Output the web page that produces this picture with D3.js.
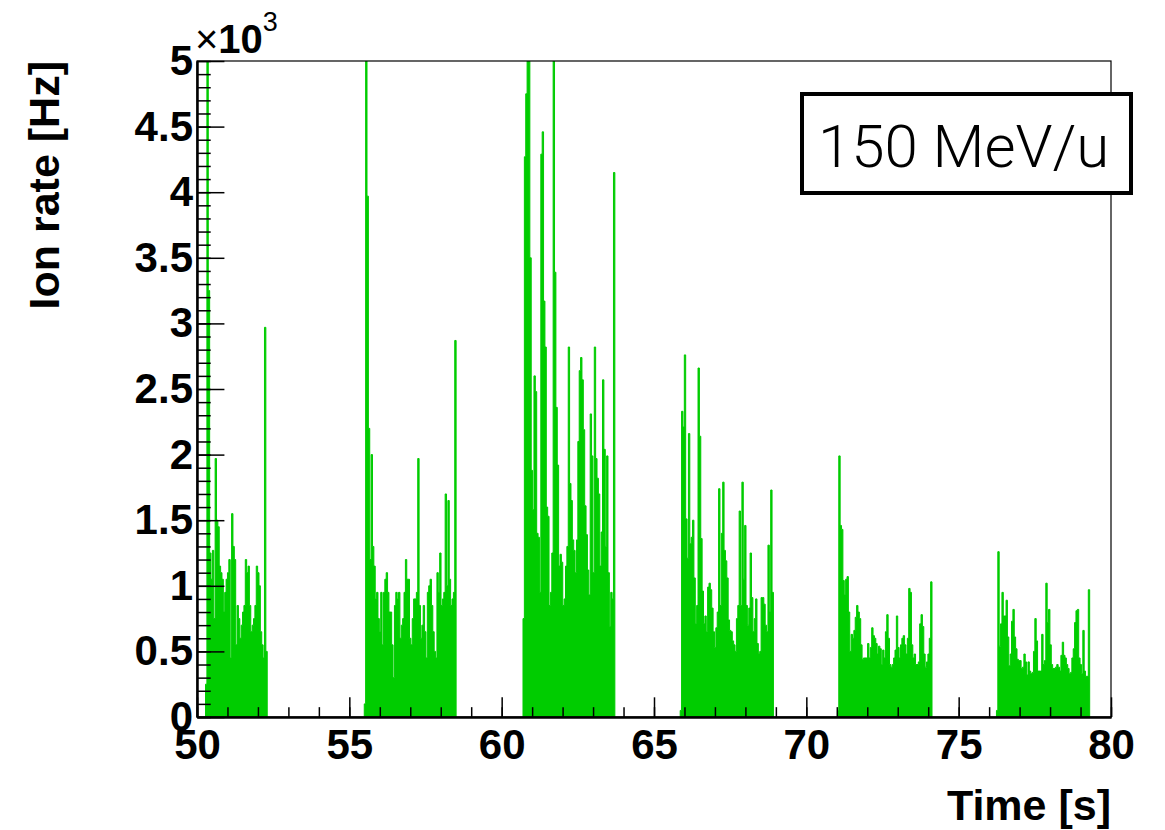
<!DOCTYPE html>
<html>
<head>
<meta charset="utf-8">
<script src="https://cdn.jsdelivr.net/npm/d3@7/dist/d3.min.js"></script>
<style>
  body { margin: 0; background: #fff; }
  svg text { font-family: "Liberation Sans", Arial, Helvetica, sans-serif; }
</style>
</head>
<body>
<div id="chart"></div>
<script>
// ---------------------------------------------------------------------------
// DATA  (ion rate in Hz, one value per time bin)
// ---------------------------------------------------------------------------
const binWidth = 0.045; // s

// start time [s] of the first bin of each spill
const spillStarts = [50.28, 55.49, 60.70, 65.86, 71.02, 76.24];

const spill1 = [250, 5600, 3250, 1250, 1050, 1270, 750, 1970, 1500, 1450, 1150, 1100, 1050, 800, 950,
  1050, 1100, 1200, 450, 1550, 1300, 1200, 550, 850, 750, 600, 700, 800, 850, 1200, 1100, 1150, 850,
  650, 700, 750, 850, 1150, 1100, 1000, 650, 550, 450, 2970, 500];

const spill2 = [100, 5600, 3970, 2200, 1200, 2000, 1300, 1150, 900, 950, 750, 650, 950, 550, 950, 1050,
  1100, 950, 800, 800, 550, 300, 850, 950, 900, 950, 600, 700, 750, 950, 1200, 1050, 1050, 600, 550,
  750, 900, 900, 950, 1970, 850, 600, 700, 850, 650, 450, 950, 1000, 1050, 850, 650, 500, 450, 1100,
  950, 1250, 850, 900, 950, 1700, 1000, 1650, 1050, 850, 900, 950, 2870];

const spill3 = [750, 4270, 4750, 5600, 5600, 3500, 1880, 1580, 2600, 2480, 1400, 1370, 950, 4290, 4460,
  3170, 2820, 1600, 1530, 850, 950, 1250, 5600, 3390, 2360, 1920, 1150, 1240, 1180, 850, 900, 1150,
  1300, 2820, 1780, 1650, 1350, 1270, 1100, 1350, 2100, 2640, 2740, 2570, 2190, 1610, 1390, 1120, 930,
  2310, 1990, 1100, 2820, 1970, 1820, 1700, 1150, 1410, 2570, 2040, 1300, 1990, 1100, 690, 950, 900, 4150];

const spill4 = [50, 2330, 2210, 2760, 1510, 1210, 2160, 1320, 1370, 1500, 1060, 710, 850, 2660, 2140,
  1360, 960, 710, 770, 650, 990, 1020, 970, 830, 650, 530, 680, 800, 1740, 850, 1400, 1790, 1270, 1190,
  1060, 740, 660, 650, 580, 550, 500, 750, 850, 1570, 850, 1790, 1050, 1460, 850, 700, 830, 1250, 910,
  650, 750, 900, 560, 480, 500, 910, 910, 860, 700, 650, 1310, 800, 1730, 950];

const spill5 = [50, 1990, 1460, 1430, 1040, 930, 1050, 1070, 800, 500, 630, 600, 660, 760, 850, 800, 750,
  550, 440, 450, 450, 450, 560, 450, 530, 680, 620, 600, 560, 480, 540, 520, 400, 510, 450, 650, 780,
  600, 400, 380, 400, 450, 510, 770, 530, 450, 550, 600, 620, 550, 480, 600, 980, 950, 550, 450, 480,
  400, 400, 420, 710, 780, 690, 480, 380, 420, 480, 600, 1030];

const spill6 = [50, 1260, 540, 710, 950, 770, 770, 890, 610, 390, 480, 730, 820, 610, 520, 440, 430, 430,
  370, 380, 480, 420, 320, 420, 350, 330, 340, 500, 750, 580, 350, 350, 350, 630, 400, 430, 1020, 720,
  820, 550, 400, 370, 370, 380, 400, 380, 350, 470, 570, 470, 450, 400, 370, 330, 340, 450, 520, 720,
  810, 820, 450, 400, 330, 660, 350, 310, 310, 970];

const spills = [spill1, spill2, spill3, spill4, spill5, spill6];

const xTicks = [50, 55, 60, 65, 70, 75, 80];
const xMinorTicks = d3.range(50, 81, 1);
const yTicks = [0, 500, 1000, 1500, 2000, 2500, 3000, 3500, 4000, 4500, 5000];
const yTickLabels = ["0", "0.5", "1", "1.5", "2", "2.5", "3", "3.5", "4", "4.5", "5"];
const yMinorTicks = d3.range(0, 5001, 100);

const legendText = "150 MeV/u";

// ---------------------------------------------------------------------------
// SVG setup
// ---------------------------------------------------------------------------
const W = 1165, H = 830;
const frame = { left: 197, right: 1111, top: 61, bottom: 717 };
const green = "#00cc00";

const svg = d3.select("#chart")
  .append("svg")
  .attr("width", W)
  .attr("height", H);

const x = d3.scaleLinear().domain([50, 80]).range([frame.left, frame.right]);
const y = d3.scaleLinear().domain([0, 5000]).range([frame.bottom, frame.top]);

svg.append("clipPath").attr("id", "frameClip")
  .append("rect")
  .attr("x", frame.left).attr("y", frame.top)
  .attr("width", frame.right - frame.left)
  .attr("height", frame.bottom - frame.top);

const histG = svg.append("g").attr("clip-path", "url(#frameClip)");

// one filled step area + outline per spill
const area = d3.area().x(d => x(d[0])).y0(y(0)).y1(d => y(d[1]));
const line = d3.line().x(d => x(d[0])).y(d => y(d[1]));

spills.forEach((vals, i) => {
  const pts = [[spillStarts[i], 0]];
  vals.forEach((v, j) => {
    const x0 = spillStarts[i] + j * binWidth;
    pts.push([x0, v], [x0 + binWidth, v]);
  });
  pts.push([spillStarts[i] + vals.length * binWidth, 0]);

  histG.append("path")
    .datum(pts)
    .attr("fill", green)
    .attr("d", area);

  histG.append("path")
    .datum(pts)
    .attr("fill", "none")
    .attr("stroke", green)
    .attr("stroke-width", 1)
    .attr("d", line);
});

// frame
svg.append("rect")
  .attr("x", frame.left).attr("y", frame.top)
  .attr("width", frame.right - frame.left)
  .attr("height", frame.bottom - frame.top)
  .attr("fill", "none")
  .attr("stroke", "#000")
  .attr("stroke-width", 1.2);

// ---------------------------------------------------------------------------
// Axes (ROOT style: ticks inside the frame)
// ---------------------------------------------------------------------------
const xTickLen = 0.03 * (frame.bottom - frame.top);
const yTickLen = 0.03 * (frame.right - frame.left);

const xMinor = svg.append("g")
  .attr("transform", `translate(0, ${frame.bottom})`)
  .call(d3.axisBottom(x).tickValues(xMinorTicks).tickSize(-xTickLen / 2).tickSizeOuter(0).tickFormat(""));

const xAxis = svg.append("g")
  .attr("transform", `translate(0, ${frame.bottom})`)
  .call(d3.axisBottom(x).tickValues(xTicks).tickSize(-xTickLen).tickSizeOuter(0).tickPadding(12));

const yMinor = svg.append("g")
  .attr("transform", `translate(${frame.left}, 0)`)
  .call(d3.axisLeft(y).tickValues(yMinorTicks).tickSize(-yTickLen / 2).tickSizeOuter(0).tickFormat(""));

const yAxis = svg.append("g")
  .attr("transform", `translate(${frame.left}, 0)`)
  .call(d3.axisLeft(y).tickValues(yTicks).tickSize(-yTickLen).tickSizeOuter(0).tickPadding(4)
    .tickFormat((d, i) => yTickLabels[i]));

[xMinor, xAxis, yMinor, yAxis].forEach(g => {
  g.selectAll(".tick line").attr("stroke", "#000").attr("stroke-width", 1.5);
  g.select(".domain").attr("stroke", "#000").attr("stroke-width", 2);
});

xAxis.selectAll(".tick text")
  .attr("fill", "#000")
  .style("font-size", "42px")
  .style("font-weight", "bold");

yAxis.selectAll(".tick text")
  .attr("fill", "#000")
  .style("font-size", "42px")
  .style("font-weight", "bold");

// x10^3 multiplier
const mult = svg.append("text")
  .attr("x", 195)
  .attr("y", 53)
  .style("font-size", "40px")
  .style("font-weight", "bold");
mult.append("tspan").style("font-weight", "normal").text("×");
mult.append("tspan").text("10");
mult.append("tspan")
  .attr("dy", -22)
  .style("font-size", "27px")
  .style("font-weight", "normal")
  .text("3");

// axis titles
svg.append("text")
  .attr("transform", `translate(59, ${frame.top}) rotate(-90)`)
  .attr("text-anchor", "end")
  .style("font-size", "43px")
  .style("font-weight", "bold")
  .text("Ion rate [Hz]");

svg.append("text")
  .attr("x", frame.right)
  .attr("y", 820)
  .attr("text-anchor", "end")
  .style("font-size", "43px")
  .style("font-weight", "bold")
  .text("Time [s]");

// ---------------------------------------------------------------------------
// Legend box
// ---------------------------------------------------------------------------
svg.append("rect")
  .attr("x", 802).attr("y", 94)
  .attr("width", 329).attr("height", 99)
  .attr("fill", "#fff")
  .attr("stroke", "#000")
  .attr("stroke-width", 4);

svg.append("text")
  .attr("x", 818)
  .attr("y", 167)
  .style("font-size", "60px")
  .style("font-family", "Roboto, 'Liberation Sans', sans-serif")
  .style("font-weight", 300)
  .text(legendText);
</script>
</body>
</html>
